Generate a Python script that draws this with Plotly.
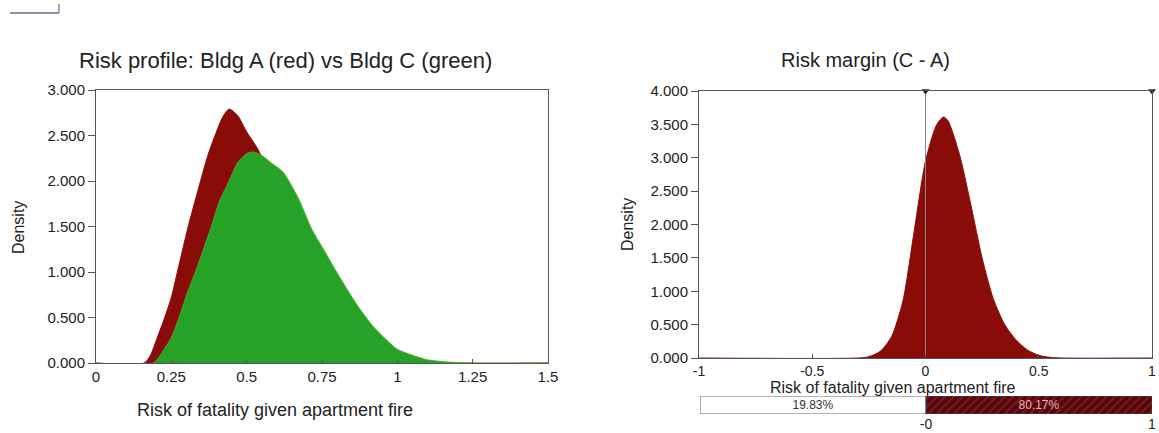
import plotly.graph_objects as go

# ---- Data: left panel (risk profile densities) ----
a_x = [0.00, 0.16, 0.18, 0.20, 0.228, 0.25, 0.27, 0.29, 0.306, 0.327, 0.347, 0.37, 0.395, 0.42, 0.442, 0.47, 0.50, 0.537,
       0.60, 0.70, 0.80, 0.90, 1.00, 1.10, 1.20, 1.50]
a_y = [0.00, 0.00, 0.08, 0.25, 0.50, 0.72, 1.00, 1.28, 1.50, 1.76, 2.00, 2.27, 2.50, 2.70, 2.79, 2.72, 2.54, 2.35,
       1.90, 1.20, 0.65, 0.30, 0.10, 0.02, 0.00, 0.00]

c_x = [0.00, 0.19, 0.216, 0.25, 0.276, 0.30, 0.33, 0.36, 0.383, 0.41, 0.442, 0.47, 0.50, 0.52, 0.55, 0.585, 0.62,
       0.67, 0.716, 0.76, 0.80, 0.87, 0.92, 0.965, 1.00, 1.05, 1.10, 1.17, 1.25, 1.50]
c_y = [0.00, 0.00, 0.10, 0.28, 0.50, 0.74, 1.00, 1.28, 1.50, 1.78, 2.00, 2.20, 2.30, 2.32, 2.28, 2.19, 2.10,
       1.82, 1.47, 1.22, 0.99, 0.62, 0.40, 0.25, 0.15, 0.085, 0.035, 0.01, 0.00, 0.00]

# ---- Data: right panel (risk margin C - A) ----
m_x = [-1.0, -0.30, -0.25, -0.20, -0.15, -0.10, -0.05, 0.00, 0.05, 0.08, 0.10, 0.15, 0.20, 0.25, 0.30, 0.35,
       0.40, 0.45, 0.50, 0.55, 0.60, 1.0]
m_y = [0.00, 0.00, 0.02, 0.10, 0.32, 0.85, 1.90, 2.95, 3.50, 3.61, 3.55, 3.05, 2.30, 1.50, 0.88, 0.50,
       0.27, 0.12, 0.04, 0.01, 0.00, 0.00]

# ---- Probability bar below right panel ----
bar_labels = ["19.83%", "80.17%"]
bar_base = [-1, 0]
bar_width = [1, 1]

left_ticks = [0, 0.25, 0.5, 0.75, 1, 1.25, 1.5]
left_ticklabels = ["0", "0.25", "0.5", "0.75", "1", "1.25", "1.5"]
right_ticks = [-1, -0.5, 0, 0.5, 1]
right_ticklabels = ["-1", "-0.5", "0", "0.5", "1"]
bar_ticks = [0, 1]
bar_ticklabels = ["-0", "1"]

RED = "rgb(138,12,8)"
GREEN = "rgb(38,163,38)"
FONT = "Liberation Sans, Arial, sans-serif"
TXT = "#222222"
LINE = "#555555"
TICK_SIZE = 15

fig = go.Figure()

fig.add_trace(go.Scatter(x=a_x, y=a_y, fill="tozeroy", mode="lines",
                         line=dict(color=RED, width=1, shape="spline", smoothing=0.7), fillcolor=RED,
                         xaxis="x", yaxis="y", hoverinfo="skip"))
fig.add_trace(go.Scatter(x=c_x, y=c_y, fill="tozeroy", mode="lines",
                         line=dict(color="rgb(70,175,40)", width=1, shape="spline", smoothing=0.7),
                         fillcolor=GREEN, xaxis="x", yaxis="y", hoverinfo="skip"))

fig.add_trace(go.Scatter(x=m_x, y=m_y, fill="tozeroy", mode="lines",
                         line=dict(color=RED, width=1, shape="spline", smoothing=0.7), fillcolor=RED,
                         xaxis="x2", yaxis="y2", hoverinfo="skip"))
# vertical reference line at 0
fig.add_trace(go.Scatter(x=[0, 0], y=[0, 4], mode="lines",
                         line=dict(color="#8a8a8a", width=1),
                         xaxis="x2", yaxis="y2", hoverinfo="skip"))
# delimiter markers at top
fig.add_trace(go.Scatter(x=[0, 1], y=[4.0, 4.0], mode="markers",
                         marker=dict(symbol="triangle-down", size=7, color="#222222"),
                         cliponaxis=False, xaxis="x2", yaxis="y2", hoverinfo="skip"))

# probability bar
fig.add_trace(go.Bar(y=[0], x=[bar_width[0]], base=[bar_base[0]], orientation="h",
                     marker=dict(color="white", line=dict(color="#666666", width=1)),
                     width=1, text=[bar_labels[0]], textposition="inside",
                     insidetextanchor="middle", constraintext="none",
                     textfont=dict(color="#333333", size=12, family=FONT),
                     xaxis="x3", yaxis="y3", hoverinfo="skip"))
fig.add_trace(go.Bar(y=[0], x=[bar_width[1]], base=[bar_base[1]], orientation="h",
                     marker=dict(color="rgb(80,8,14)", line=dict(color="#444444", width=1),
                                 pattern=dict(shape="/", fgcolor="rgb(190,40,45)",
                                              bgcolor="rgb(80,8,14)", size=6, solidity=0.3)),
                     width=1, text=[bar_labels[1]], textposition="inside",
                     insidetextanchor="middle", constraintext="none",
                     textfont=dict(color="rgb(235,175,180)", size=12, family=FONT),
                     xaxis="x3", yaxis="y3", hoverinfo="skip"))

axis_common = dict(showline=True, linecolor=LINE, linewidth=1, mirror=True,
                   showgrid=False, zeroline=False, automargin=False,
                   tickfont=dict(family=FONT, size=TICK_SIZE, color=TXT))

fig.update_layout(
    width=1159, height=433,
    margin=dict(l=0, r=0, t=0, b=0, autoexpand=False),
    paper_bgcolor="white", plot_bgcolor="white",
    showlegend=False, hovermode=False,
    barmode="overlay",
    xaxis=dict(domain=[96/1159, 548/1159], range=[0, 1.5], tickvals=left_ticks,
               ticktext=left_ticklabels, ticks="inside", ticklen=4, tickcolor=LINE,
               anchor="y", **axis_common),
    yaxis=dict(domain=[1-363/433, 1-90/433], range=[0, 3], dtick=0.5,
               tickformat=".3f", ticks="outside", ticklen=7, tickcolor=LINE,
               anchor="x", **axis_common),
    xaxis2=dict(domain=[699/1159, 1152/1159], range=[-1, 1], tickvals=right_ticks,
                ticktext=right_ticklabels, ticks="inside", ticklen=4, tickcolor=LINE,
                anchor="y2", **{**axis_common, "tickfont": dict(family=FONT, size=14, color=TXT)}),
    yaxis2=dict(domain=[1-358/433, 1-91/433], range=[0, 4], dtick=0.5,
                tickformat=".3f", ticks="outside", ticklen=7, tickcolor=LINE,
                anchor="x2", **axis_common),
    xaxis3=dict(domain=[700/1159, 1152/1159], range=[-1, 1], tickvals=bar_ticks,
                ticktext=bar_ticklabels, ticks="", showline=False, showgrid=False,
                zeroline=False, anchor="y3", automargin=False,
                tickfont=dict(family=FONT, size=14, color=TXT)),
    yaxis3=dict(domain=[1-414/433, 1-396/433], range=[-0.5, 0.5], visible=False,
                anchor="x3", automargin=False),
    font=dict(family=FONT, color=TXT),
)

annos = [
    dict(text="Risk profile: Bldg A (red) vs Bldg C (green)", x=285/1159, y=1-60/433, size=22),
    dict(text="Risk margin (C - A)", x=865/1159, y=1-60/433, size=20),
    dict(text="Risk of fatality given apartment fire", x=275/1159, y=1-410/433, size=18),
    dict(text="Risk of fatality given apartment fire", x=893/1159, y=1-387/433, size=16),
]
for a in annos:
    fig.add_annotation(text=a["text"], x=a["x"], y=a["y"], xref="paper", yref="paper",
                       showarrow=False, xanchor="center", yanchor="middle",
                       font=dict(family=FONT, size=a["size"], color=TXT))
for xpx, ypx in [(18, 228), (627, 225)]:
    fig.add_annotation(text="Density", x=xpx/1159, y=1-ypx/433, xref="paper", yref="paper",
                       showarrow=False, textangle=-90, xanchor="center", yanchor="middle",
                       font=dict(family=FONT, size=16, color=TXT))

# small corner fragment at top-left
fig.add_shape(type="line", xref="paper", yref="paper", x0=10/1159, x1=59/1159,
              y0=1-13/433, y1=1-13/433, line=dict(color="#9a86a8", width=2))
fig.add_shape(type="line", xref="paper", yref="paper", x0=59/1159, x1=59/1159,
              y0=1-13/433, y1=1-4/433, line=dict(color="#888888", width=1.5))

fig.write_html("out.html", config={"displayModeBar": False},
               post_script="document.body.style.margin='0';document.body.style.overflow='hidden';")
